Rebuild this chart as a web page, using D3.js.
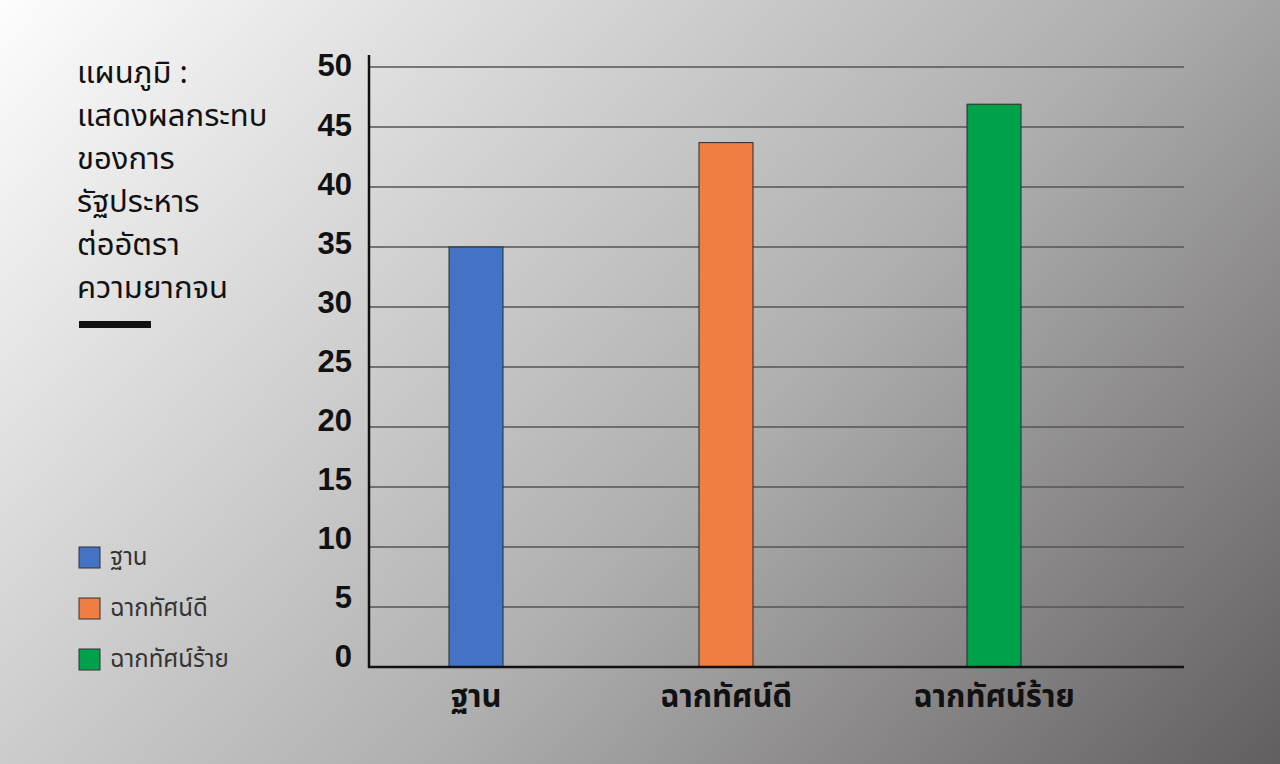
<!DOCTYPE html>
<html>
<head>
<meta charset="utf-8">
<script src="https://cdn.jsdelivr.net/npm/d3@7"></script>
<style>
  body { margin: 0; overflow: hidden; }
  svg { display: block; }
</style>
</head>
<body>
<div id="chart"></div>
<script>
// data
const categories = ["ฐาน", "ฉากทัศน์ดี", "ฉากทัศน์ร้าย"];
const values = [35, 43.7, 46.9];
const barColors = ["#4472c4", "#f07d41", "#00a14b"];
const yTicks = [0, 5, 10, 15, 20, 25, 30, 35, 40, 45, 50];
const titleLines = ["แผนภูมิ :", "แสดงผลกระทบ", "ของการ", "รัฐประหาร", "ต่ออัตรา", "ความยากจน"];

const config = {
    width: 1280,
    height: 764,
    thaiFont: "'Noto Sans Thai', 'Noto Sans Thai UI', 'Noto Sans', sans-serif",
    numFont: "'Liberation Sans', Arial, sans-serif"
};

const svg = d3.select("#chart")
    .append("svg")
    .attr("width", config.width)
    .attr("height", config.height);

// background gradient, light top-left to dark bottom-right
const defs = svg.append("defs");
const grad = defs.append("linearGradient")
    .attr("id", "bg")
    .attr("gradientUnits", "userSpaceOnUse")
    .attr("x1", 0).attr("y1", 0)
    .attr("x2", 1100).attr("y2", 1040);
grad.append("stop").attr("offset", "0%").attr("stop-color", "#fdfdfd");
grad.append("stop").attr("offset", "55%").attr("stop-color", "#b0afb0");
grad.append("stop").attr("offset", "100%").attr("stop-color", "#5a5758");

svg.append("rect")
    .attr("width", config.width)
    .attr("height", config.height)
    .attr("fill", "url(#bg)");

// scales - the bars are not evenly spaced in the original
const x = d3.scaleOrdinal()
    .domain(categories)
    .range([476, 726, 994]);

const y = d3.scaleLinear()
    .domain([0, 50])
    .range([667, 67]);

// tick labels sit a little above their grid lines in the original
const yLabel = d3.scaleLinear()
    .domain([0, 50])
    .range([657, 66]);

const plotLeft = 369, plotRight = 1184;
const barWidth = 54;

// grid lines
svg.append("g")
    .attr("class", "grid")
    .selectAll("line")
    .data(yTicks.filter(d => d > 0))
    .join("line")
    .attr("x1", plotLeft)
    .attr("x2", plotRight)
    .attr("y1", d => y(d))
    .attr("y2", d => y(d))
    .attr("stroke", "#545454")
    .attr("stroke-width", 1.4);

// bars
svg.selectAll(".bar")
    .data(values)
    .join("rect")
    .attr("class", "bar")
    .attr("x", (d, i) => x(categories[i]) - barWidth / 2)
    .attr("y", d => y(d))
    .attr("width", barWidth)
    .attr("height", d => y(0) - y(d))
    .attr("fill", (d, i) => barColors[i])
    .attr("stroke", "#2a2a2a")
    .attr("stroke-width", 1);

// y axis labels
const yAxis = d3.axisLeft(yLabel)
    .tickValues(yTicks)
    .tickSize(0)
    .tickPadding(0);

svg.append("g")
    .attr("class", "y-axis")
    .attr("transform", "translate(352,0)")
    .call(yAxis)
    .call(g => g.select(".domain").remove())
    .selectAll("text")
    .attr("font-family", config.numFont)
    .attr("font-weight", "bold")
    .attr("font-size", "31px")
    .attr("fill", "#111");

// axis lines
svg.append("line")
    .attr("x1", plotLeft).attr("x2", plotLeft)
    .attr("y1", 55).attr("y2", y(0) + 1)
    .attr("stroke", "#111").attr("stroke-width", 2.5);
svg.append("line")
    .attr("x1", plotLeft - 1).attr("x2", plotRight)
    .attr("y1", y(0)).attr("y2", y(0))
    .attr("stroke", "#111").attr("stroke-width", 2.5);

// x axis labels
categories.forEach(c => {
    svg.append("text")
        .attr("class", "x-label")
        .attr("x", x(c))
        .attr("y", y(0) + 40)
        .attr("text-anchor", "middle")
        .attr("font-family", config.thaiFont)
        .attr("font-weight", "bold")
        .attr("font-size", "31px")
        .attr("fill", "#111")
        .text(c);
});

// title block
svg.append("g")
    .selectAll("text")
    .data(titleLines)
    .join("text")
    .attr("x", 77)
    .attr("y", (d, i) => 83 + i * 43)
    .attr("font-family", config.thaiFont)
    .attr("font-size", "31px")
    .attr("fill", "#111")
    .text(d => d);

svg.append("rect")
    .attr("x", 79).attr("y", 321)
    .attr("width", 72).attr("height", 7)
    .attr("fill", "#111");

// legend
const legend = svg.append("g")
    .selectAll("g")
    .data(categories)
    .join("g")
    .attr("transform", (d, i) => `translate(79, ${547 + i * 51})`);

legend.append("rect")
    .attr("width", 21)
    .attr("height", 21)
    .attr("fill", (d, i) => barColors[i])
    .attr("stroke", "#333")
    .attr("stroke-width", 1);

legend.append("text")
    .attr("x", 31)
    .attr("y", 18)
    .attr("font-family", config.thaiFont)
    .attr("font-size", "24px")
    .attr("fill", "#333")
    .text(d => d);
</script>
</body>
</html>
